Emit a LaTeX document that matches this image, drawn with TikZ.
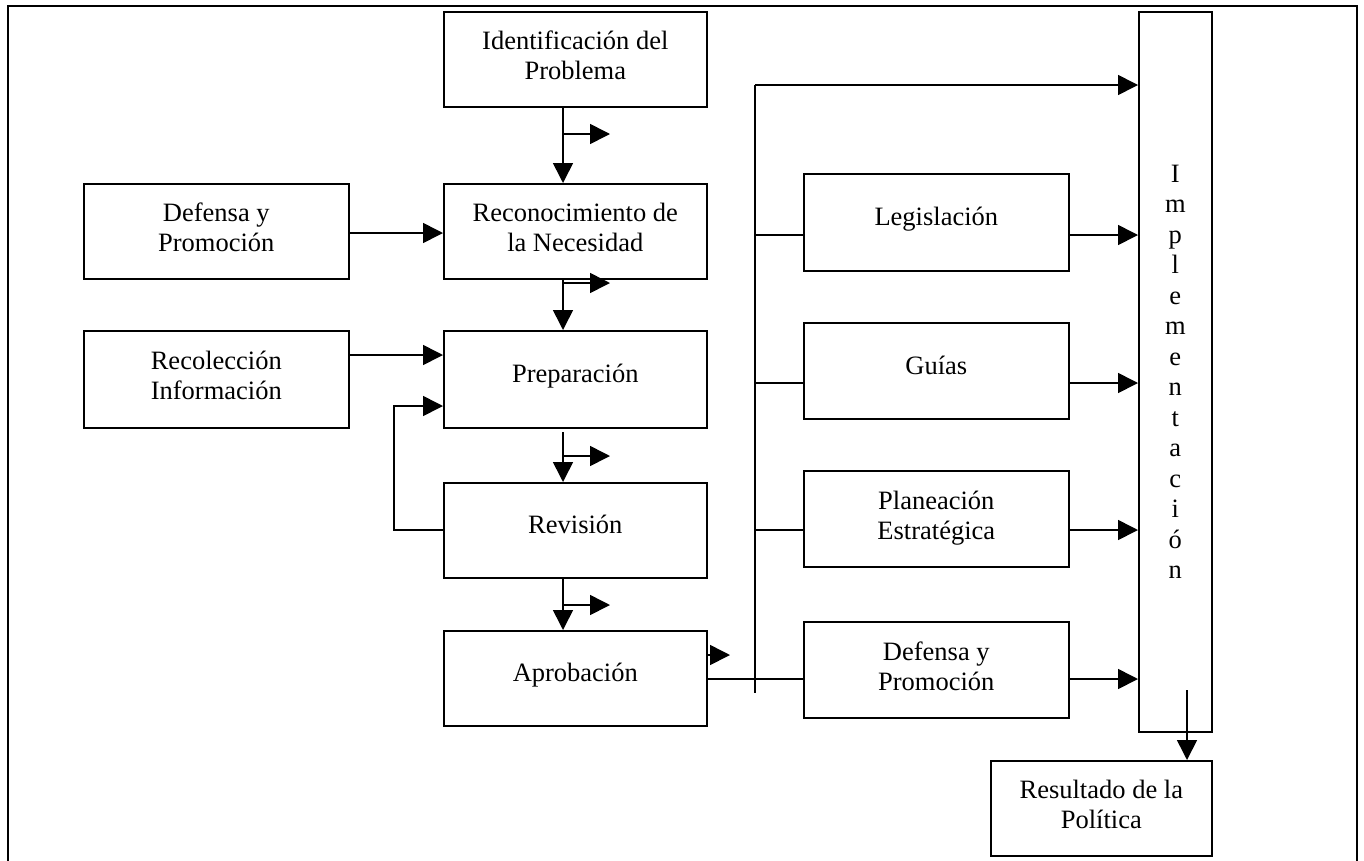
\documentclass[tikz,border=0pt]{standalone}
\usepackage{fontspec}
\setmainfont{Liberation Serif}
\usetikzlibrary{arrows.meta}
\begin{document}
\begin{tikzpicture}[x=1pt,y=-1pt,
  line width=1.6pt,
  every node/.style={font=\fontsize{26.5}{30}\selectfont},
  box/.style={draw, rectangle, anchor=north west, inner sep=0pt, align=center,
    text height=7pt, text depth=0pt},
  boxtwo/.style={box, text height=41pt},
  arr/.style={-{Triangle[length=20pt,width=20pt]}},
]
\useasboundingbox (0,0) rectangle (1364,860);
\clip (0,0) rectangle (1364,860);

% outer frame
\draw (8,880) -- (8,6) -- (1357,6) -- (1357,880);

% central column
\node[boxtwo, minimum width=263pt, minimum height=95pt] (ident) at (443,11) {Identificación del\\Problema};
\node[boxtwo, minimum width=263pt, minimum height=95pt] (recon) at (443,183) {Reconocimiento de\\la Necesidad};
\node[box, minimum width=263pt, minimum height=97pt] (prep) at (443,330) {Preparación};
\node[box, minimum width=263pt, minimum height=95pt] (rev) at (443,482) {Revisión};
\node[box, minimum width=263pt, minimum height=95pt] (apro) at (443,630) {Aprobación};

% left inputs
\node[boxtwo, minimum width=265pt, minimum height=95pt] (defL) at (83,183) {Defensa y\\Promoción};
\node[boxtwo, minimum width=265pt, minimum height=97pt] (recol) at (83,330) {Recolección\\Información};

% instruments
\node[box, minimum width=265pt, minimum height=97pt] (legis) at (803,173) {Legislación};
\node[box, minimum width=265pt, minimum height=96pt] (guias) at (803,322) {Guías};
\node[boxtwo, minimum width=265pt, minimum height=96pt] (plan) at (803,470) {Planeación\\Estratégica};
\node[boxtwo, minimum width=265pt, minimum height=96pt] (defR) at (803,621) {Defensa y\\Promoción};

% implementation column and outcome
\node[draw, rectangle, anchor=north west, inner sep=0pt, align=center,
  minimum width=73pt, minimum height=720pt,
  font=\fontsize{26.5}{30.5}\selectfont] (impl) at (1138,11)
  {I\\m\\p\\l\\e\\m\\e\\n\\t\\a\\c\\i\\ó\\n};
\node[boxtwo, minimum width=221pt, minimum height=95pt] (res) at (990,760) {Resultado de la\\Política};

% free ends and guide points
\coordinate (cx) at (563,0);
\coordinate (b1) at (610,134);
\coordinate (b2) at (610,283);
\coordinate (b3) at (610,456);
\coordinate (b4) at (610,605);
\coordinate (b5) at (730,655);
\coordinate (busT) at (755,85);
\coordinate (busB) at (755,693);
\coordinate (fbx) at (394,0);

% main chain with side branches
\draw[arr] (ident.south -| cx) -- (recon.north -| cx);
\draw[arr] (563,134) -- (b1);
\draw[arr] (recon.south -| cx) -- (prep.north -| cx);
\draw[arr] (563,283) -- (b2);
\draw[arr] (563,432) -- (rev.north -| cx);
\draw[arr] (563,456) -- (b3);
\draw[arr] (rev.south -| cx) -- (apro.north -| cx);
\draw[arr] (563,605) -- (b4);

% inputs into the chain
\draw[arr] (defL.east |- 0,233) -- (recon.west |- 0,233);
\draw[arr] (recol.east |- 0,355) -- (prep.west |- 0,355);
\draw[arr] (rev.west |- 0,530) -- (fbx |- 0,530) -- (fbx |- 0,406) -- (prep.west |- 0,406);

% distribution bus
\draw[arr] (apro.east |- b5) -- (b5);
\draw (busT) -- (busB);
\draw[arr] (busT) -- (impl.west |- busT);
\draw (busT |- 0,235) -- (legis.west |- 0,235);
\draw (busT |- 0,383) -- (guias.west |- 0,383);
\draw (busT |- 0,530) -- (plan.west |- 0,530);
\draw (apro.east |- 0,679) -- (defR.west |- 0,679);

% instruments into implementation
\draw[arr] (legis.east |- 0,235) -- (impl.west |- 0,235);
\draw[arr] (guias.east |- 0,383) -- (impl.west |- 0,383);
\draw[arr] (plan.east |- 0,530) -- (impl.west |- 0,530);
\draw[arr] (defR.east |- 0,679) -- (impl.west |- 0,679);

% outcome
\draw[arr] (1187,690) -- (res.north -| 1187,0);
\end{tikzpicture}
\end{document}
